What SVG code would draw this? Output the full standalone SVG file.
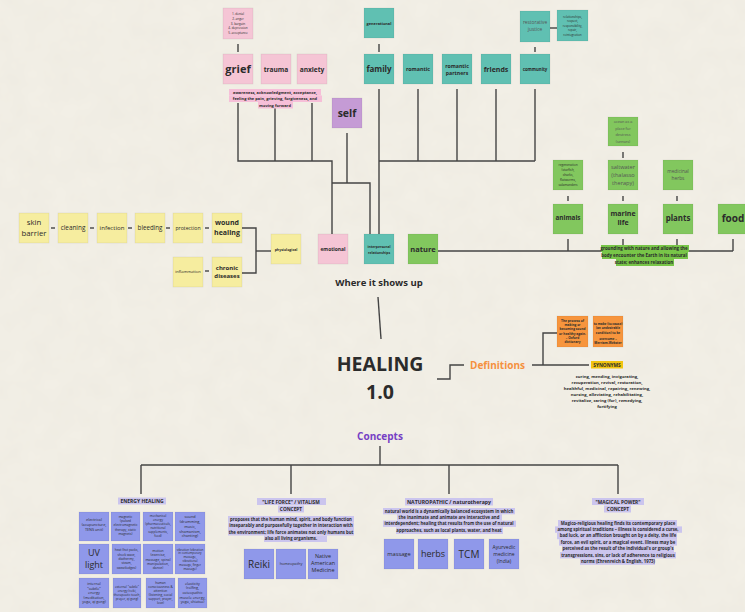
<svg xmlns="http://www.w3.org/2000/svg" width="745" height="612" viewBox="0 0 745 612">
<style>
  text { font-family: "Open Sans", "Noto Sans", "Liberation Sans", sans-serif; fill: #2b2b2b; text-anchor: middle; }
  .b { font-weight: 700; }
  .soft { fill: #555; }
  .ln { stroke: #444; stroke-width: 1.4; fill: none; }
  .box { stroke: #000; stroke-opacity: 0.07; stroke-width: 0.8; }
  .pk { fill: #f5c5d5; }
  .tl { fill: #60c0b2; }
  .gr { fill: #82c75e; }
  .yl { fill: #f6ed9f; }
  .pu { fill: #c59bd5; }
  .bl { fill: #8f98ea; }
  .or { fill: #f7953d; }
  .hl-pk { fill: #f6bfd8; }
  .hl-gr { fill: #78c548; }
  .hl-lv { fill: #cbc5ee; }
  .hl-yl { fill: #f2c40f; }
</style>
<defs>
  <filter id="paper" x="0" y="0" width="100%" height="100%">
    <feTurbulence type="fractalNoise" baseFrequency="0.04" numOctaves="3" seed="7"/>
    <feColorMatrix type="matrix" values="0 0 0 0 0.55  0 0 0 0 0.52  0 0 0 0 0.45  0 0 0 0.1 0"/>
  </filter>
</defs>

<!-- paper background -->
<rect width="745" height="612" fill="#f3f0e7"/>
<rect width="745" height="612" filter="url(#paper)"/>

<!-- connectors -->
<g id="connectors">
  <!-- grief cluster -->
  <line class="ln" x1="238" y1="44" x2="238" y2="52"/>
  <polyline class="ln" points="238,103 238,161 332,161 332,234"/>
  <line class="ln" x1="275" y1="108" x2="275" y2="161"/>
  <line class="ln" x1="312" y1="103" x2="312" y2="161"/>
  <!-- self -->
  <polyline class="ln" points="347,133 347,183"/>
  <polyline class="ln" points="332,183 370,183 370,234"/>
  <!-- relationships cluster -->
  <line class="ln" x1="379" y1="44" x2="379" y2="52"/>
  <line class="ln" x1="535" y1="47" x2="535" y2="52"/>
  <line class="ln" x1="550" y1="28" x2="557" y2="28"/>
  <line class="ln" x1="379" y1="89" x2="379" y2="234" stroke-width="1.7"/>
  <line class="ln" x1="418" y1="89" x2="418" y2="161"/>
  <line class="ln" x1="457" y1="89" x2="457" y2="161"/>
  <line class="ln" x1="496" y1="89" x2="496" y2="161"/>
  <line class="ln" x1="535" y1="89" x2="535" y2="161"/>
  <line class="ln" x1="379" y1="161" x2="535" y2="161"/>
  <!-- nature cluster -->
  <line class="ln" x1="438" y1="251" x2="733" y2="251"/>
  <line class="ln" x1="568" y1="239" x2="568" y2="251"/>
  <line class="ln" x1="623" y1="239" x2="623" y2="251"/>
  <line class="ln" x1="677" y1="239" x2="677" y2="251"/>
  <line class="ln" x1="733" y1="239" x2="733" y2="251"/>
  <line class="ln" x1="568" y1="196" x2="568" y2="201"/>
  <line class="ln" x1="623" y1="196" x2="623" y2="201"/>
  <line class="ln" x1="677" y1="196" x2="677" y2="201"/>
  <line class="ln" x1="623" y1="152" x2="623" y2="158"/>
  <!-- physiological chain -->
  <line class="ln" x1="51" y1="228" x2="55" y2="228"/>
  <line class="ln" x1="90" y1="228" x2="94" y2="228"/>
  <line class="ln" x1="128" y1="228" x2="132" y2="228"/>
  <line class="ln" x1="166" y1="228" x2="170" y2="228"/>
  <line class="ln" x1="205" y1="228" x2="209" y2="228"/>
  <line class="ln" x1="205" y1="271" x2="209" y2="271"/>
  <polyline class="ln" points="242,228 256,228 256,273 242,273"/>
  <line class="ln" x1="256" y1="251" x2="271" y2="251"/>
  <!-- core -->
  <line class="ln" x1="378" y1="297" x2="381" y2="339"/>
  <polyline class="ln" points="437,379 450,379 450,365 464,365"/>
  <line class="ln" x1="532" y1="365" x2="589" y2="365"/>
  <polyline class="ln" points="543,365 543,333 557,333"/>
  <!-- concepts tree -->
  <line class="ln" x1="380" y1="446" x2="380" y2="465"/>
  <line class="ln" x1="141" y1="465" x2="618" y2="465"/>
  <line class="ln" x1="141" y1="465" x2="141" y2="494"/>
  <line class="ln" x1="291" y1="465" x2="291" y2="494"/>
  <line class="ln" x1="449" y1="465" x2="449" y2="494"/>
  <line class="ln" x1="618" y1="465" x2="618" y2="494"/>
</g>

<!-- grief stages -->
<g id="grief-stages">
  <rect class="box pk" x="223" y="8" width="30" height="31"/>
  <text x="238" y="15" font-size="3.1">1. denial</text>
  <text x="238" y="20" font-size="3.1">2. anger</text>
  <text x="238" y="24.5" font-size="3.1">3. bargain</text>
  <text x="238" y="29" font-size="3.1">4. depression</text>
  <text x="238" y="34" font-size="3.1">5. acceptance</text>
</g>
<g id="grief"><rect class="box pk" x="223" y="54" width="30" height="30"/><text class="b" x="238" y="73" font-size="11">grief</text></g>
<g id="trauma"><rect class="box pk" x="261" y="54" width="30" height="30"/><text class="b" x="276" y="71.5" font-size="6.6">trauma</text></g>
<g id="anxiety"><rect class="box pk" x="297" y="54" width="30" height="30"/><text class="b" x="312" y="71.5" font-size="6.6">anxiety</text></g>
<g id="grief-note">
  <rect class="hl-pk" x="229" y="89" width="92" height="6.5"/>
  <rect class="hl-pk" x="229" y="95.5" width="93" height="6.5"/>
  <rect class="hl-pk" x="258" y="102" width="35" height="6.5"/>
  <text class="b" x="275" y="93.6" font-size="4">awareness, acknowledgment, acceptance,</text>
  <text class="b" x="275" y="100.1" font-size="4">feeling the pain, grieving, forgiveness, and</text>
  <text class="b" x="275" y="106.6" font-size="4">moving forward</text>
</g>
<g id="self"><rect class="box pu" x="332" y="98" width="30" height="30"/><text class="b" x="347" y="117" font-size="10.5">self</text></g>

<!-- relationships -->
<g id="generational"><rect class="box tl" x="364" y="8" width="30" height="30"/><text class="b" x="379" y="24.5" font-size="3.9">generational</text></g>
<g id="family"><rect class="box tl" x="364" y="54" width="30" height="30"/><text class="b" x="379" y="72" font-size="8">family</text></g>
<g id="romantic"><rect class="box tl" x="403" y="54" width="30" height="30"/><text class="b" x="418" y="71" font-size="5.3">romantic</text></g>
<g id="romantic-partners"><rect class="box tl" x="442" y="54" width="30" height="30"/><text class="b" x="457" y="68" font-size="5.2">romantic</text><text class="b" x="457" y="74.5" font-size="5.2">partners</text></g>
<g id="friends"><rect class="box tl" x="481" y="54" width="30" height="30"/><text class="b" x="496" y="71.5" font-size="7">friends</text></g>
<g id="community"><rect class="box tl" x="520" y="54" width="30" height="30"/><text class="b" x="535" y="71" font-size="4.3">community</text></g>
<g id="restorative-justice"><rect class="box tl" x="520" y="11" width="30" height="31"/><text class="soft" x="535" y="24" font-size="4.8">restorative</text><text class="soft" x="535" y="31" font-size="4.8">justice</text></g>
<g id="restorative-values">
  <rect class="box tl" x="557" y="10" width="31" height="31"/>
  <text x="572.5" y="17.5" font-size="3">relationships,</text>
  <text x="572.5" y="22" font-size="3">respect,</text>
  <text x="572.5" y="26.5" font-size="3">responsibility,</text>
  <text x="572.5" y="31" font-size="3">repair,</text>
  <text x="572.5" y="35.5" font-size="3">reintegration</text>
</g>

<!-- where it shows up -->
<g id="physiological"><rect class="box yl" x="271" y="234" width="30" height="30"/><text class="b" x="286" y="250.5" font-size="3.5">physiological</text></g>
<g id="emotional"><rect class="box pk" x="318" y="234" width="30" height="30"/><text class="b" x="333" y="250.8" font-size="4.9">emotional</text></g>
<g id="interpersonal"><rect class="box tl" x="364" y="234" width="30" height="30"/><text class="b" x="379" y="247.5" font-size="3.4">interpersonal</text><text class="b" x="379" y="253.5" font-size="3.4">relationships</text></g>
<g id="nature"><rect class="box gr" x="408" y="234" width="30" height="30"/><text class="b" x="423" y="251.8" font-size="7.5">nature</text></g>
<g id="where-label"><text class="b" x="379" y="285.5" font-size="9.5">Where it shows up</text></g>

<!-- physiological chain -->
<g id="skin-barrier"><rect class="box yl" x="19" y="213" width="30" height="30"/><text x="34" y="224.5" font-size="7.8">skin</text><text x="34" y="236" font-size="7.8">barrier</text></g>
<g id="cleaning"><rect class="box yl" x="58" y="213" width="30" height="30"/><text x="73" y="229.5" font-size="6.4">cleaning</text></g>
<g id="infection"><rect class="box yl" x="97" y="213" width="30" height="30"/><text x="112" y="229.5" font-size="6.1">infection</text></g>
<g id="bleeding"><rect class="box yl" x="135" y="213" width="30" height="30"/><text x="150" y="229.5" font-size="6.2">bleeding</text></g>
<g id="protection"><rect class="box yl" x="173" y="213" width="30" height="30"/><text x="188" y="229.5" font-size="5.2">protection</text></g>
<g id="wound-healing"><rect class="box yl" x="212" y="213" width="30" height="30"/><text class="b" x="227" y="224.5" font-size="7">wound</text><text class="b" x="227" y="234.5" font-size="7">healing</text></g>
<g id="inflammation"><rect class="box yl" x="173" y="257" width="30" height="30"/><text x="188" y="272.5" font-size="4.1">inflammation</text></g>
<g id="chronic-diseases"><rect class="box yl" x="212" y="257" width="30" height="30"/><text class="b" x="227" y="269.5" font-size="6">chronic</text><text class="b" x="227" y="277.5" font-size="6">diseases</text></g>

<!-- nature branch -->
<g id="regeneration">
  <rect class="box gr" x="553" y="160" width="30" height="30"/>
  <text x="568" y="165.5" font-size="3.2">regeneration</text>
  <text x="568" y="170.5" font-size="3.2">(starfish,</text>
  <text x="568" y="175.5" font-size="3.2">sharks,</text>
  <text x="568" y="180.5" font-size="3.2">flatworms,</text>
  <text x="568" y="185.5" font-size="3.2">salamanders</text>
</g>
<g id="ocean">
  <rect class="box gr" x="608" y="117" width="30" height="29"/>
  <text class="soft" x="623" y="122.8" font-size="3.8">ocean as a</text>
  <text class="soft" x="623" y="129.5" font-size="3.8">place for</text>
  <text class="soft" x="623" y="136" font-size="3.8">destress</text>
  <text class="soft" x="623" y="142.7" font-size="3.8">(senses)</text>
</g>
<g id="saltwater">
  <rect class="box gr" x="608" y="160" width="30" height="30"/>
  <text class="soft" x="623" y="169" font-size="5.6">saltwater</text>
  <text class="soft" x="623" y="177" font-size="5.6">(thalasso</text>
  <text class="soft" x="623" y="185" font-size="5.6">therapy)</text>
</g>
<g id="medicinal-herbs"><rect class="box gr" x="663" y="160" width="30" height="30"/><text class="soft" x="678" y="173" font-size="4.8">medicinal</text><text class="soft" x="678" y="180" font-size="4.8">herbs</text></g>
<g id="animals"><rect class="box gr" x="553" y="204" width="30" height="30"/><text class="b" x="568" y="220.3" font-size="6.3">animals</text></g>
<g id="marine-life"><rect class="box gr" x="608" y="204" width="30" height="30"/><text class="b" x="623" y="215.5" font-size="7">marine</text><text class="b" x="623" y="224.5" font-size="7">life</text></g>
<g id="plants"><rect class="box gr" x="663" y="204" width="30" height="30"/><text class="b" x="678" y="221" font-size="7.9">plants</text></g>
<g id="food"><rect class="box gr" x="718" y="204" width="30" height="30"/><text class="b" x="733" y="221.5" font-size="10">food</text></g>
<g id="grounding-note">
  <rect class="hl-gr" x="601" y="245" width="88" height="7"/>
  <rect class="hl-gr" x="602" y="252" width="86" height="7"/>
  <rect class="hl-gr" x="616" y="259" width="58" height="7"/>
  <text class="b" x="644" y="249.8" font-size="4.4">grounding with nature and allowing the</text>
  <text class="b" x="644" y="256.8" font-size="4.4">body encounter the Earth in its natural</text>
  <text class="b" x="644" y="263.8" font-size="4.4">state; enhances relaxation</text>
</g>

<!-- core title -->
<g id="healing">
  <text class="b" x="380" y="371" font-size="19.5" fill="#222">HEALING</text>
  <text class="b" x="380" y="399" font-size="19.5" fill="#222">1.0</text>
</g>
<g id="definitions"><text class="b" x="497.5" y="368.5" font-size="10" style="fill:#f5913e">Definitions</text></g>
<g id="def-oxford">
  <rect class="box or" x="557" y="316" width="31" height="31"/>
  <text class="b" x="572.5" y="322" font-size="3.2">The process of</text>
  <text class="b" x="572.5" y="326.2" font-size="3.2">making or</text>
  <text class="b" x="572.5" y="330.4" font-size="3.2">becoming sound</text>
  <text class="b" x="572.5" y="334.6" font-size="3.2">or healthy again.</text>
  <text class="b" x="572.5" y="338.8" font-size="3.2">– Oxford</text>
  <text class="b" x="572.5" y="343" font-size="3.2">dictionary</text>
</g>
<g id="def-webster">
  <rect class="box or" x="593" y="316" width="30" height="31"/>
  <text class="b" x="608" y="325" font-size="3.1">to make (to cause)</text>
  <text class="b" x="608" y="329.3" font-size="3.1">(an undesirable</text>
  <text class="b" x="608" y="333.6" font-size="3.1">condition) to be</text>
  <text class="b" x="608" y="340" font-size="3.1">overcome –</text>
  <text class="b" x="608" y="344.3" font-size="3.1">Merriam-Webster</text>
</g>
<g id="synonyms">
  <rect class="hl-yl" x="591" y="361" width="32" height="7.5"/>
  <text class="b" x="607" y="366.6" font-size="4.8">SYNONYMS</text>
  <text class="b" x="607" y="377.5" font-size="4.2">curing, mending, invigorating,</text>
  <text class="b" x="607" y="383.5" font-size="4.2">recuperation, revival, restoration,</text>
  <text class="b" x="607" y="389.7" font-size="4.2">healthful, medicinal, repairing, renewing,</text>
  <text class="b" x="607" y="395.9" font-size="4.2">nursing, alleviating, rehabilitating,</text>
  <text class="b" x="607" y="402" font-size="4.2">revitalize, caring (for), remedying,</text>
  <text class="b" x="607" y="408.2" font-size="4.2">fortifying</text>
</g>

<!-- concepts -->
<g id="concepts"><text class="b" x="380" y="439.5" font-size="10" style="fill:#7640c4">Concepts</text></g>

<g id="energy-healing">
  <rect class="hl-lv" x="118" y="497.5" width="48" height="7"/>
  <text class="b" x="142" y="503" font-size="5">ENERGY HEALING</text>
</g>
<g id="eh-electrical"><rect class="box bl" x="79" y="512" width="30" height="29"/>
  <text x="94" y="521" font-size="3.8">electrical</text><text x="94" y="526" font-size="3.8">(acupuncture,</text><text x="94" y="531" font-size="3.8">TENS unit)</text></g>
<g id="eh-magnetic"><rect class="box bl" x="111" y="512" width="29" height="29"/>
  <text x="125.5" y="518" font-size="3.2">magnetic</text><text x="125.5" y="522.2" font-size="3.2">(pulsed</text><text x="125.5" y="526.4" font-size="3.2">electromagnetic</text><text x="125.5" y="530.6" font-size="3.2">therapy, static</text><text x="125.5" y="534.8" font-size="3.2">magnets)</text></g>
<g id="eh-mechanical"><rect class="box bl" x="143" y="512" width="30" height="29"/>
  <text x="158" y="516.5" font-size="3.1">mechanical</text><text x="158" y="520.5" font-size="3.1">energy</text><text x="158" y="524.5" font-size="3.1">(pharmaceuticals,</text><text x="158" y="528.5" font-size="3.1">nutritional</text><text x="158" y="532.5" font-size="3.1">supplements,</text><text x="158" y="536.5" font-size="3.1">food)</text></g>
<g id="eh-sound"><rect class="box bl" x="175" y="512" width="30" height="29"/>
  <text x="190" y="517.5" font-size="3.8">sound</text><text x="190" y="522.5" font-size="3.8">(drumming,</text><text x="190" y="527.5" font-size="3.8">music,</text><text x="190" y="532.5" font-size="3.8">shamanism,</text><text x="190" y="537.3" font-size="3.8">chanting)</text></g>
<g id="eh-uv"><rect class="box bl" x="79" y="544" width="30" height="30"/>
  <text x="94" y="555.5" font-size="9">UV</text><text x="94" y="568" font-size="9">light</text></g>
<g id="eh-heat"><rect class="box bl" x="112" y="544" width="29" height="30"/>
  <text x="126.5" y="551.2" font-size="3.2">heat (hot packs,</text><text x="126.5" y="555.6" font-size="3.2">shock wave,</text><text x="126.5" y="560" font-size="3.2">diathermy,</text><text x="126.5" y="564.4" font-size="3.2">steam,</text><text x="126.5" y="568.8" font-size="3.2">sweatlodges)</text></g>
<g id="eh-motion"><rect class="box bl" x="143" y="544" width="30" height="30"/>
  <text x="158" y="552" font-size="3.4">motion</text><text x="158" y="556.3" font-size="3.4">(exercise,</text><text x="158" y="560.6" font-size="3.4">massage, spinal</text><text x="158" y="564.9" font-size="3.4">manipulation,</text><text x="158" y="569.2" font-size="3.4">dance)</text></g>
<g id="eh-vibration"><rect class="box bl" x="175" y="544" width="30" height="30"/>
  <text x="190" y="550.6" font-size="3">vibration (vibration</text><text x="190" y="554.4" font-size="3">in contemporary</text><text x="190" y="558.2" font-size="3">massage,</text><text x="190" y="562" font-size="3">vibrational</text><text x="190" y="565.8" font-size="3">massage, finger</text><text x="190" y="569.6" font-size="3">massage)</text></g>
<g id="eh-internal"><rect class="box bl" x="79" y="578" width="30" height="30"/>
  <text x="94" y="585" font-size="3.7">internal</text><text x="94" y="589.6" font-size="3.7">"subtle"</text><text x="94" y="594.2" font-size="3.7">energy</text><text x="94" y="598.8" font-size="3.7">(meditation,</text><text x="94" y="603.4" font-size="3.7">yoga, qi gong)</text></g>
<g id="eh-external"><rect class="box bl" x="113" y="578" width="28" height="30"/>
  <text x="127" y="587.8" font-size="3.1">external "subtle"</text><text x="127" y="591.7" font-size="3.1">energy (reiki,</text><text x="127" y="595.6" font-size="3.1">therapeutic touch,</text><text x="127" y="599.5" font-size="3.1">prayer, qi gong)</text></g>
<g id="eh-consciousness"><rect class="box bl" x="146" y="578" width="29" height="30"/>
  <text x="160.5" y="584" font-size="3.2">human</text><text x="160.5" y="588" font-size="3.2">consciousness &amp;</text><text x="160.5" y="592" font-size="3.2">attention</text><text x="160.5" y="596" font-size="3.2">(listening, social</text><text x="160.5" y="600" font-size="3.2">support, prayer,</text><text x="160.5" y="604" font-size="3.2">love)</text></g>
<g id="eh-elasticity"><rect class="box bl" x="178" y="578" width="29" height="30"/>
  <text x="192.5" y="584.5" font-size="3.7">elasticity</text><text x="192.5" y="589.2" font-size="3.7">(rolfing,</text><text x="192.5" y="593.9" font-size="3.7">osteopathic</text><text x="192.5" y="598.6" font-size="3.7">muscle energy,</text><text x="192.5" y="603.3" font-size="3.7">yoga, shiatsu)</text></g>

<g id="life-force">
  <rect class="hl-lv" x="257" y="498" width="69" height="7"/>
  <rect class="hl-lv" x="278" y="505.5" width="26" height="7"/>
  <text class="b" x="291" y="503.5" font-size="4.8">"LIFE FORCE"  / VITALISM</text>
  <text class="b" x="291" y="511" font-size="4.8">CONCEPT</text>
  <rect class="hl-lv" x="228" y="516" width="126" height="6.5"/>
  <rect class="hl-lv" x="228" y="522.5" width="126" height="6.5"/>
  <rect class="hl-lv" x="228" y="529" width="126" height="6.5"/>
  <rect class="hl-lv" x="264" y="535.5" width="63" height="6.5"/>
  <text class="b" x="291" y="520.6" font-size="4.3">proposes that the human mind, spirit, and body function</text>
  <text class="b" x="291" y="527.1" font-size="4.3">inseparably and purposefully together in interaction with</text>
  <text class="b" x="291" y="533.6" font-size="4.3">the environment; life force animates not only humans but</text>
  <text class="b" x="291" y="540.1" font-size="4.3">also all living organisms.</text>
</g>
<g id="reiki"><rect class="box bl" x="244" y="549" width="30" height="30"/><text x="259" y="567.5" font-size="10">Reiki</text></g>
<g id="homeopathy"><rect class="box bl" x="276" y="549" width="30" height="30"/><text x="291" y="565.2" font-size="3.8">homeopathy</text></g>
<g id="native-american"><rect class="box bl" x="308" y="549" width="30" height="30"/>
  <text x="323" y="557.7" font-size="5.4">Native</text><text x="323" y="565" font-size="5.4">American</text><text x="323" y="572.3" font-size="5.4">Medicine</text></g>

<g id="naturopathic">
  <rect class="hl-lv" x="405" y="498" width="88" height="7.5"/>
  <text class="b" x="449" y="503.8" font-size="5.2">NATUROPATHIC / naturotherapy</text>
  <rect class="hl-lv" x="383" y="508" width="132" height="6.3"/>
  <rect class="hl-lv" x="397" y="514.3" width="105" height="6.3"/>
  <rect class="hl-lv" x="383" y="520.6" width="133" height="6.3"/>
  <rect class="hl-lv" x="396" y="527.5" width="107" height="6.5"/>
  <text class="b" x="449" y="512.5" font-size="4.3">natural world is a dynamically balanced ecosystem in which</text>
  <text class="b" x="449" y="518.8" font-size="4.3">the inanimate and animate are interactive and</text>
  <text class="b" x="449" y="525.1" font-size="4.3">interdependent; healing that results from the use of natural</text>
  <text class="b" x="449" y="532.2" font-size="4.3">approaches, such as local plants, water, and heat</text>
</g>
<g id="massage"><rect class="box bl" x="384" y="539" width="30" height="30"/><text x="399" y="555.8" font-size="5.7">massage</text></g>
<g id="herbs"><rect class="box bl" x="418" y="539" width="30" height="30"/><text x="433" y="557.3" font-size="9">herbs</text></g>
<g id="tcm"><rect class="box bl" x="454" y="539" width="30" height="30"/><text x="469" y="557.8" font-size="10">TCM</text></g>
<g id="ayurvedic"><rect class="box bl" x="489" y="539" width="30" height="30"/>
  <text x="504" y="548.5" font-size="5">Ayurvedic</text><text x="504" y="555.5" font-size="5">medicine</text><text x="504" y="562.5" font-size="5">(India)</text></g>

<g id="magical-power">
  <rect class="hl-lv" x="592" y="498" width="52" height="7"/>
  <rect class="hl-lv" x="604" y="505.5" width="27" height="7"/>
  <text class="b" x="618" y="503.5" font-size="4.8">"MAGICAL POWER"</text>
  <text class="b" x="618" y="511" font-size="4.8">CONCEPT</text>
  <rect class="hl-lv" x="558" y="520" width="119" height="6.4"/>
  <rect class="hl-lv" x="555" y="526.4" width="127" height="6.4"/>
  <rect class="hl-lv" x="557" y="532.8" width="120" height="6.4"/>
  <rect class="hl-lv" x="559" y="539.2" width="118" height="6.4"/>
  <rect class="hl-lv" x="562" y="545.6" width="112" height="6.4"/>
  <rect class="hl-lv" x="560" y="552" width="116" height="6.4"/>
  <rect class="hl-lv" x="580" y="558.4" width="75" height="6.4"/>
  <text class="b" x="618" y="524.6" font-size="4.3">Magico-religious healing finds its contemporary place</text>
  <text class="b" x="618" y="531" font-size="4.3">among spiritual traditions –  illness is considered a curse,</text>
  <text class="b" x="618" y="537.4" font-size="4.3">bad luck, or an affliction brought on by a deity, the life</text>
  <text class="b" x="618" y="543.8" font-size="4.3">force, an evil spirit, or a magical event. Illness may be</text>
  <text class="b" x="618" y="550.2" font-size="4.3">perceived as the result of the individual's or group's</text>
  <text class="b" x="618" y="556.6" font-size="4.3">transgressions, sins, or lack of adherence to religious</text>
  <text class="b" x="618" y="563" font-size="4.3">norms (Ehrenreich &amp; English, 1973)</text>
</g>
</svg>
